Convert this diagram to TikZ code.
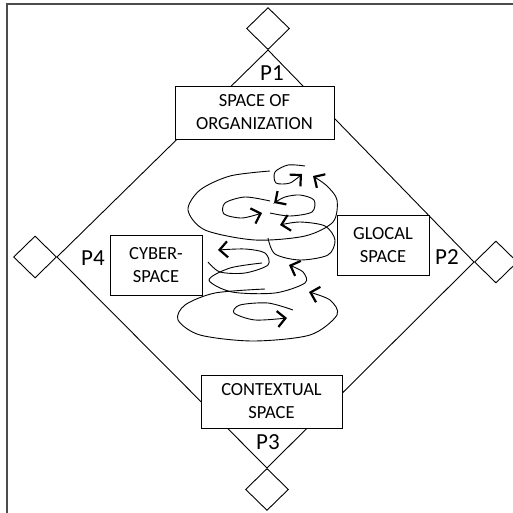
\documentclass[tikz,border=0pt]{standalone}
\usepackage{fontspec}
\setmainfont{Carlito}
\usetikzlibrary{arrows.meta, positioning, shapes.geometric}

\begin{document}
\begin{tikzpicture}[
        x=1pt, y=-1pt, line width=0.9pt,
        port/.style={draw, diamond, inner sep=0pt, minimum width=43pt, minimum height=42pt},
        space/.style={draw, fill=white, align=center, inner sep=0pt, font=\fontsize{18.5}{23}\selectfont},
        plabel/.style={inner sep=0pt, font=\fontsize{23}{26}\selectfont},
        spin/.style={-{Straight Barb[length=8pt, width=16pt, line width=2.2pt]}},
        ]
        \useasboundingbox (0,0) rectangle (513,513);
        % frame (only top and left edges are visible)
        \draw[line width=1.6pt, black!70] (7,513) -- (7,4) -- (513,4);

        \node[port, anchor=south] (d_1) at (268,50)  {};
        \node[port, anchor=west]  (d_2) at (474,262) {};
        \node[port, anchor=north] (d_3) at (267,468) {};
        \node[port, anchor=east]  (d_4) at (57,257)  {};

        \path (d_1.south) edge (d_2.west)
        (d_2.west) edge (d_3.north)
        (d_3.north) edge (d_4.east)
        (d_4.east) edge (d_1.south);

        \node[plabel] (p_1) at (272,73)  {P1};
        \node[plabel] (p_2) at (447,257) {P2};
        \node[plabel] (p_3) at (268,442) {P3};
        \node[plabel] (p_4) at (93,258)  {P4};

        \node[space, minimum width=159pt, minimum height=53pt] (s_org) at (254.5,112.5) {SPACE OF\\ORGANIZATION};
        \node[space, minimum width=92pt, minimum height=60pt]  (s_cyb) at (156,265)     {CYBER-\\SPACE};
        \node[space, minimum width=92pt, minimum height=60pt]  (s_glo) at (383,245)     {GLOCAL\\SPACE};
        \node[space, minimum width=141pt, minimum height=53pt] (s_ctx) at (271.5,401.5) {CONTEXTUAL\\SPACE};

        % the whirl in the middle
        \draw[spin] plot[smooth] coordinates {(270,171) (230,176) (200,190) (188,210) (205,230) (255,240) (305,236) (333,222) (337,200) (327,186) (313,176)};
        \draw[spin] plot[smooth] coordinates {(305,166) (288,165) (275,172) (276,183) (290,183) (302,174)};
        \draw[spin] plot[smooth] coordinates {(270,201) (245,197) (225,203) (224,214) (242,218) (262,213)};
        \draw[spin] plot[smooth] coordinates {(270,213) (290,216) (312,212) (314,200) (300,195) (285,197) (274,203)};
        \draw[spin] plot[smooth] coordinates {(268,238) (275,254) (300,260) (328,255) (335,240) (325,226) (300,222) (280,225)};
        \draw[spin] plot[smooth] coordinates {(208,262) (220,272) (245,273) (268,265) (265,253) (245,249) (218,250)};
        \draw[spin] plot[smooth] coordinates {(262,263) (230,268) (209,280) (232,292) (275,293) (305,283) (303,272) (289,265)};
        \draw[spin] plot[smooth] coordinates {(265,289) (215,293) (185,305) (178,320) (200,335) (253,341) (310,335) (337,315) (330,300) (309,292)};
        \draw[spin] plot[smooth] coordinates {(293,310) (268,303) (240,305) (234,313) (255,320) (287,318)};
\end{tikzpicture}
\end{document}
